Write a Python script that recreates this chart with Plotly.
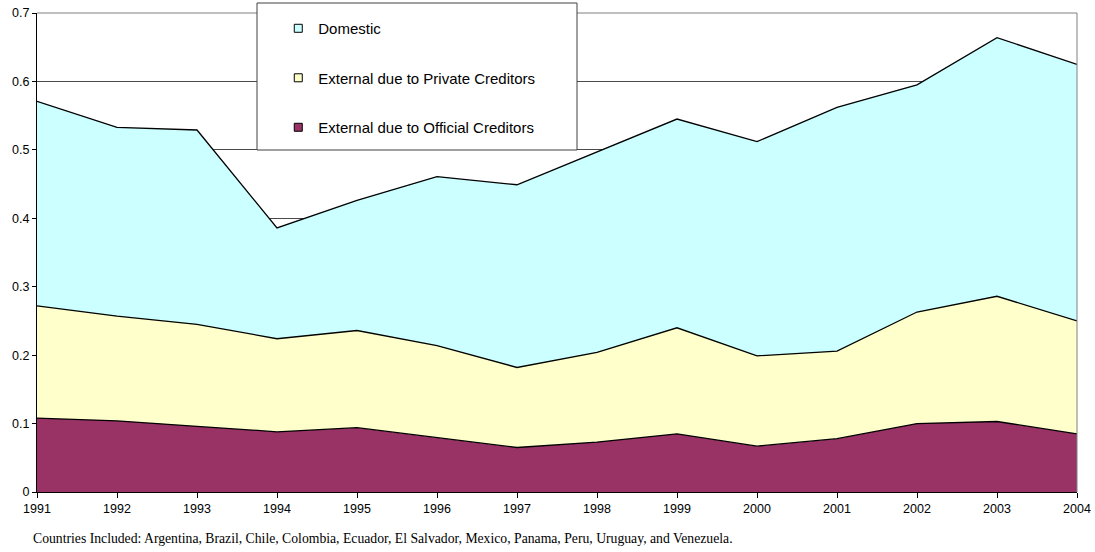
import plotly.graph_objects as go

years = list(range(1991, 2005))
official = [0.108, 0.104, 0.096, 0.088, 0.094, 0.080, 0.065, 0.073, 0.085, 0.067, 0.078, 0.100, 0.103, 0.085]
private = [0.164, 0.153, 0.149, 0.136, 0.142, 0.134, 0.117, 0.131, 0.155, 0.132, 0.128, 0.163, 0.183, 0.165]
domestic = [0.299, 0.276, 0.284, 0.162, 0.190, 0.247, 0.267, 0.293, 0.305, 0.313, 0.356, 0.332, 0.378, 0.375]

names = ["External due to Official Creditors", "External due to Private Creditors", "Domestic"]
colors = ["#993366", "#FFFFCC", "#CCFFFF"]
series = [official, private, domestic]
y_ticks = [0, 0.1, 0.2, 0.3, 0.4, 0.5, 0.6, 0.7]
y_tick_labels = ["0", "0.1", "0.2", "0.3", "0.4", "0.5", "0.6", "0.7"]
note = ("Countries Included: Argentina, Brazil, Chile, Colombia, Ecuador, El Salvador, "
        "Mexico, Panama, Peru, Uruguay, and Venezuela.")

fig = go.Figure()
for name, col, vals in zip(names, colors, series):
    fig.add_trace(go.Scatter(
        x=years, y=vals, name=name, stackgroup="one", mode="lines",
        line=dict(color="black", width=1.3), fillcolor=col, showlegend=False,
        hoverinfo="x+y+name"))

# legend entries (Domestic first)
for i, (name, col) in enumerate(reversed(list(zip(names, colors)))):
    fig.add_trace(go.Scatter(
        x=[None], y=[None], name=name, mode="markers", legendgroup=f"g{i}",
        marker=dict(symbol="square", size=8, color=col, line=dict(color="black", width=1))))

fig.update_layout(
    width=1095, height=552,
    margin=dict(l=37, r=18, t=13, b=60, autoexpand=False),
    paper_bgcolor="white", plot_bgcolor="white",
    font=dict(family="Liberation Sans, Arial", size=12, color="black"),
    showlegend=True,
    legend=dict(x=0.232, y=1.002, xanchor="left", yanchor="top",
                bgcolor="rgba(0,0,0,0)", borderwidth=0,
                font=dict(family="Liberation Sans, Arial", size=15, color="black"),
                tracegroupgap=27, traceorder="grouped"),
    xaxis=dict(range=[1991, 2004], tickmode="array", tickvals=years,
               ticktext=[str(y) for y in years], automargin=False,
               showgrid=False, zeroline=False, showline=True, linecolor="black", linewidth=1,
               ticks="outside", ticklen=5, tickcolor="black", tickwidth=1,
               tickfont=dict(size=12.5, color="black")),
    yaxis=dict(range=[0, 0.7], tickmode="array", tickvals=y_ticks, ticktext=y_tick_labels,
               automargin=False,
               showgrid=True, gridcolor="#4a4a4a", gridwidth=1, zeroline=False,
               showline=True, linecolor="black", linewidth=1,
               ticks="outside", ticklen=4, tickcolor="black", tickwidth=1,
               tickfont=dict(size=12.5, color="black")),
    hovermode="x",
)

# plot-area right border
fig.add_shape(type="line", xref="paper", yref="paper", x0=1, x1=1, y0=0, y1=1,
              line=dict(color="#808080", width=1), layer="above")
fig.add_shape(type="line", xref="paper", yref="paper", x0=0, x1=1, y0=1, y1=1,
              line=dict(color="#808080", width=1), layer="below")
# legend box
fig.add_shape(type="rect", xref="paper", yref="paper",
              x0=(257 - 37) / 1040, x1=(577 - 37) / 1040,
              y0=(492 - 150) / 479, y1=(492 - 3) / 479,
              line=dict(color="#404040", width=1), fillcolor="white", layer="above")

fig.add_annotation(text=note, xref="paper", yref="paper", x=-0.0058, y=-0.098,
                   xanchor="left", yanchor="middle", showarrow=False,
                   font=dict(family="Liberation Serif, Times New Roman", size=13.7, color="black"))

fig.write_html("out.html", config={"displayModeBar": False},
               post_script="document.body.style.margin='0px';")
